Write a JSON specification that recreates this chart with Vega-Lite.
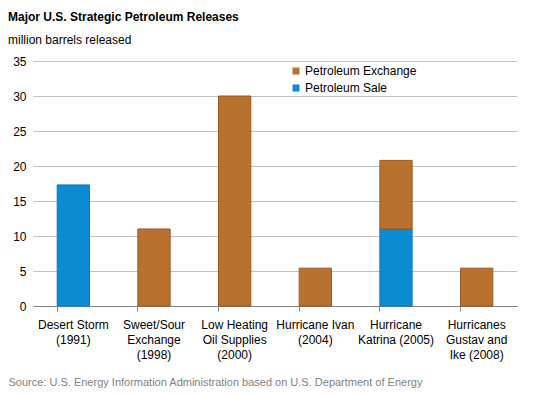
{
  "$schema": "https://vega.github.io/schema/vega-lite/v6.json",
  "width": 484,
  "height": 245,
  "autosize": "none",
  "padding": {"left": 33, "top": 61, "right": 23, "bottom": 90},
  "background": "white",
  "config": {
    "font": "Liberation Sans",
    "view": {"stroke": null}
  },
  "title": {
    "text": "Major U.S. Strategic Petroleum Releases",
    "subtitle": "million barrels released",
    "anchor": "start",
    "frame": "group",
    "dx": -25,
    "fontSize": 12,
    "fontWeight": "bold",
    "color": "#000000",
    "subtitleFontSize": 12,
    "subtitleColor": "#000000",
    "subtitlePadding": 11,
    "offset": 8
  },
  "data": {
    "values": [
      {"event": "Desert Storm|(1991)", "type": "Petroleum Sale", "value": 17.3},
      {"event": "Sweet/Sour|Exchange|(1998)", "type": "Petroleum Exchange", "value": 11.0},
      {"event": "Low Heating|Oil Supplies|(2000)", "type": "Petroleum Exchange", "value": 30.0},
      {"event": "Hurricane Ivan|(2004)", "type": "Petroleum Exchange", "value": 5.4},
      {"event": "Hurricane|Katrina (2005)", "type": "Petroleum Sale", "value": 11.0},
      {"event": "Hurricane|Katrina (2005)", "type": "Petroleum Exchange", "value": 9.8},
      {"event": "Hurricanes|Gustav and|Ike (2008)", "type": "Petroleum Exchange", "value": 5.4}
    ]
  },
  "mark": {"type": "bar", "strokeWidth": 1},
  "encoding": {
    "x": {
      "field": "event",
      "type": "nominal",
      "sort": null,
      "scale": {"paddingInner": 0.6, "paddingOuter": 0.3},
      "axis": {
        "labelExpr": "split(datum.value, '|')",
        "labelAngle": 0,
        "labelFontSize": 12,
        "labelColor": "#000000",
        "labelLineHeight": 15,
        "labelBaseline": "top",
        "labelPadding": 8,
        "bandPosition": 0,
        "tickSize": 5,
        "tickColor": "#808080",
        "domainColor": "#808080",
        "grid": false,
        "title": "Source: U.S. Energy Information Administration based on U.S. Department of Energy",
        "titleFontSize": 11,
        "titleFontWeight": "normal",
        "titleColor": "#7F7F7F",
        "titleAnchor": "start",
        "titleAlign": "left",
        "titleX": -25,
        "titleY": 70
      }
    },
    "y": {
      "field": "value",
      "type": "quantitative",
      "scale": {"domain": [0, 35]},
      "axis": {
        "values": [0, 5, 10, 15, 20, 25, 30, 35],
        "title": null,
        "domain": false,
        "ticks": false,
        "labelFontSize": 12,
        "labelColor": "#000000",
        "labelPadding": 7,
        "gridColor": "#BFBFBF"
      }
    },
    "color": {
      "field": "type",
      "type": "nominal",
      "scale": {"domain": ["Petroleum Exchange", "Petroleum Sale"], "range": ["#B8712E", "#0A8BD2"]},
      "legend": {
        "title": null,
        "orient": "none",
        "legendX": 257,
        "legendY": 4,
        "symbolType": "square",
        "symbolSize": 49,
        "symbolStrokeWidth": 0,
        "labelFontSize": 12,
        "labelColor": "#000000",
        "labelOffset": 3,
        "rowPadding": 5
      }
    },
    "stroke": {
      "field": "type",
      "type": "nominal",
      "scale": {"domain": ["Petroleum Exchange", "Petroleum Sale"], "range": ["#9E5519", "#0A7BC0"]},
      "legend": null
    },
    "order": {"field": "type", "sort": "descending"}
  }
}
